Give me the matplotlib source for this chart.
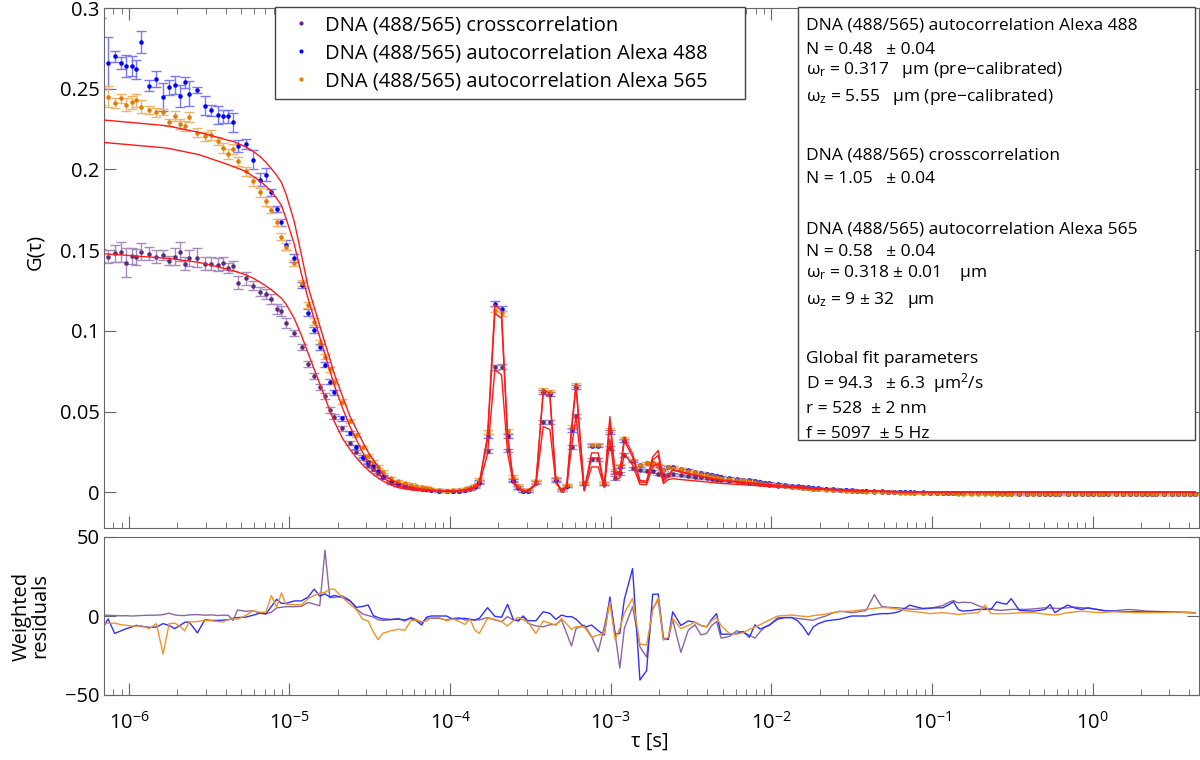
import numpy as np
import matplotlib
matplotlib.use("Agg")
import matplotlib.pyplot as plt
from matplotlib.lines import Line2D
from matplotlib.patches import Rectangle
from matplotlib.ticker import LogLocator, NullFormatter

plt.rcParams['font.family'] = ['Open Sans', 'DejaVu Sans']
plt.rcParams['mathtext.fontset'] = 'custom'
plt.rcParams['mathtext.rm'] = 'Open Sans'
plt.rcParams['mathtext.it'] = 'Open Sans:italic'
plt.rcParams['axes.unicode_minus'] = True

# lag times of the multi-tau correlator, in microseconds (8 channels per octave)
tau_us = [
    0.668, 0.742, 0.816, 0.891, 0.965, 1.039, 1.113,
    1.188, 1.336, 1.484, 1.633, 1.781, 1.930, 2.078, 2.227,
    2.375, 2.672, 2.969, 3.266, 3.563, 3.859, 4.156, 4.453,
    4.75, 5.344, 5.938, 6.531, 7.125, 7.719, 8.313, 8.906,
    9.5, 10.69, 11.88, 13.06, 14.25, 15.44, 16.63, 17.81,
    19.0, 21.38, 23.75, 26.13, 28.5, 30.88, 33.25, 35.63,
    38.0, 42.75, 47.5, 52.25, 57.0, 61.75, 66.5, 71.25,
    76, 85.5, 95, 104.5, 114, 123.5, 133, 142.5,
    152, 171, 190, 209, 228, 247, 266, 285,
    304, 342, 380, 418, 456, 494, 532, 570,
    608, 684, 760, 836, 912, 988, 1064, 1140,
    1216, 1368, 1520, 1672, 1824, 1976, 2128, 2280,
    2432, 2736, 3040, 3344, 3648, 3952, 4256, 4560,
    4864, 5472, 6080, 6688, 7296, 7904, 8512, 9120,
    9728, 10944, 12160, 13376, 14592, 15808, 17024, 18240,
    19456, 21888, 24320, 26752, 29184, 31616, 34048, 36480,
    38912, 43776, 48640, 53504, 58368, 63232, 68096, 72960,
    77824, 87552, 97280, 107008, 116736, 126464, 136192, 145920,
    155648, 175104, 194560, 214016, 233472, 252928, 272384, 291840,
    311296, 350208, 389120, 428032, 466944, 505856, 544768, 583680,
    622592, 700416, 778240, 856064, 933888, 1011712, 1089536, 1167360,
    1245184, 1400832, 1556480, 1712128, 1867776, 2023424, 2179072, 2334720,
    2490368, 2801664, 3112960, 3424256, 3735552, 4046848, 4358144,
]

# autocorrelation Alexa 488 (blue)
g_488 = [
    .272, .266, .270, .266, .264, .264, .262,
    .279, .252, .256, .245, .251, .2525, .2457, .254,
    .2469, .2494, .2395, .2366, .2339, .2329, .2329, .2291,
    .2147, .2157, .206, .1936, .1967, .1858, .1756, .1672,
    .1533, .145, .1286, .1114, .1007, .090, .079, .0687,
    .062, .046, .037, .028, .0222, .0187, .0164, .013,
    .0098, .0063, .0051, .0042, .0035, .003, .0026, .0023,
    .0016, .0012, .0008, .001, .0012, .0017, .0025, .0040,
    .0067, .0352, .1168, .1137, .0352, .0073, .0032, .0011,
    .0011, .0067, .0621, .061, .0077, .0015, .0042, .0387,
    .0655, .0055, .029, .029, .0055, .0375, .0125, .016,
    .032, .0195, .0168, .018, .018, .0164, .0139, .0156,
    .0156, .0146, .0137, .0128, .0120, .0113, .0107, .0101,
    .0096, .0090, .0085, .0080, .0075, .0070, .0065, .0061,
    .0057, .0052, .0047, .0043, .0039, .0035, .0032, .0029,
    .0026, .0023, .0020, .0018, .0016, .0014, .0012, .0011,
    .0009, .0008, .0007, .0006, .0005, .0004, .0003, .0002,
    .0001, .0, -.0001, -.0002, -.0002, -.0003, -.0003, -.0004,
    -.0004, -.0005, -.0005, -.0005, -.0006, -.0006, -.0006, -.0006,
    -.0006, -.0007, -.0007, -.0006, -.0007, -.0007, -.0007, -.0008,
    -.0007, -.0008, -.0007, -.0008, -.0008, -.0007, -.0008, -.0008,
    -.0008, -.0008, -.0009, -.0008, -.0008, -.0009, -.0008, -.0009,
    -.0008, -.0009, -.0009, -.0008, -.0009, -.0009, -.0009,
]
err_488 = [
    .022, .016, .0035, .0035, .007, .006, .006,
    .0067, .0032, .005, .0088, .0046, .0057, .0069, .0034,
    .0077, .0019, .006, .0036, .0056, .004, .004, .006,
    .0036, .003, .006, .004, .004, .002, .002, .002,
    .003, .0025, .002, .002, .002, .002, .0015, .0015,
    .0015, .0015, .0012, .0012, .001, .001, .001, .001,
    .0009, .0009, .0009, .0009, .0009, .0009, .0009, .0009,
    .0008, .0008, .0008, .0008, .0008, .0008, .0008, .0008,
    .001, .0012, .0015, .0015, .0012, .001, .0008, .0008,
    .0008, .001, .0012, .0012, .001, .0008, .0008, .0012,
    .0012, .0008, .001, .001, .0008, .0012, .001, .001,
    .001, .0008, .0008, .0008, .0008, .0008, .0008, .0008,
    .0007, .0007, .0007, .0007, .0007, .0007, .0007, .0007,
    .0006, .0006, .0006, .0006, .0006, .0006, .0006, .0006,
    .0005, .0005, .0005, .0005, .0005, .0005, .0005, .0005,
    .0005, .0005, .0005, .0005, .0005, .0005, .0005, .0005,
    .0004, .0004, .0004, .0004, .0004, .0004, .0004, .0004,
    .0004, .0004, .0004, .0004, .0004, .0004, .0004, .0004,
    .0004, .0004, .0004, .0004, .0004, .0004, .0004, .0004,
    .0004, .0004, .0004, .0004, .0004, .0004, .0004, .0004,
    .0004, .0004, .0004, .0004, .0004, .0004, .0004, .0004,
    .0004, .0004, .0004, .0004, .0004, .0004, .0004, .0004,
    .0004, .0004, .0004, .0004, .0004, .0004, .0004,
]
fit_488 = [
    .2308, .2304, .2300, .2297, .2294, .2291, .2288,
    .2286, .2281, .2277, .2273, .2268, .2261, .2254, .2248,
    .2242, .2232, .2221, .2210, .2199, .2189, .2181, .2174,
    .2162, .2140, .2112, .2082, .2045, .2005, .1965, .1920,
    .1850, .1680, .1470, .1273, .1147, .1031, .0926, .0830,
    .0735, .0596, .0473, .0391, .0315, .0250, .0203, .0158,
    .0115, .0080, .0058, .0043, .0033, .0026, .0021, .0018,
    .0015, .0012, .0010, .0010, .0012, .0016, .0023, .0037,
    .0060, .0350, .1162, .1127, .0360, .0075, .0030, .0010,
    .0010, .0055, .0635, .0615, .0070, .0012, .0038, .0400,
    .0672, .0015, .0245, .0245, .0040, .0470, .0120, .0130,
    .0340, .0240, .0075, .0070, .0220, .0260, .0080, .0110,
    .0140, .0128, .0118, .0108, .0100, .0093, .0087, .0082,
    .0078, .0073, .0068, .0064, .0060, .0057, .0054, .0051,
    .0048, .0045, .0042, .0039, .0036, .0033, .0030, .0027,
    .0024, .0021, .0019, .0017, .0015, .0013, .0012, .0011,
    .0010, .0009, .0008, .0007, .0006, .0005, .0005, .0004,
    .0004, .0004, .0003, .0003, .0003, .0003, .0003, .0003,
    .0003, .0003, .0003, .0003, .0003, .0003, .0003, .0003,
    .0003, .0003, .0003, .0003, .0003, .0003, .0003, .0003,
    .0003, .0003, .0003, .0003, .0003, .0003, .0003, .0003,
    .0003, .0003, .0003, .0003, .0003, .0003, .0003, .0003,
    .0003, .0003, .0003, .0003, .0003, .0003, .0003,
]
res_488 = [
    -10, -1.8, -11, -9.4, -8, -7, -5.9,
    -6.5, -7.2, -7, -4.8, -6, -8, -6, -4,
    -3.8, -10.7, -2.4, -2.8, -2.8, -2.6, -2.4, -1.5,
    -1.0, -0.7, 0.5, 1.8, 1.4, 6, 10.6, 8,
    8, 9.5, 9.6, 12, 17, 12.6, 14, 12,
    13, 11.7, 9.6, 5.5, 6, 7, 0.3, -1,
    -1.8, -2.2, -2, -2.5, -1.5, -3, -5.7, -0.8,
    0, 0, 0, -2.1, -1.7, -1.5, -2, -2.5,
    -1.5, 5.3, -0.2, -0.8, 7.4, -2, -3.2, 0,
    -3, -3, 2.7, 1.7, -2.1, 0.6, -0.4, -0.4,
    -2, -7.2, -5.7, -9.3, -12, 12, -11.4, -11,
    10.5, 30, -40.5, -34.6, 13.7, 13.9, -14, -14.8,
    2.7, -6, -3.1, -4, -6, -6.9, -2, 1.5,
    -11.5, -11.5, -11, -9.8, -13.5, -5.6, -8.3, -7,
    -5.6, -2, -1, -1, -3, -7, -12, -7,
    -5, -3.1, -2.5, -2, -1, 0, 0, 0,
    0, 1, 1.5, 1.5, 2, 3, 5, 6.9,
    6, 4.8, 5, 5.2, 5.2, 7, 9, 4,
    3.1, 3.5, 4.2, 4.2, 4.2, 9, 8, 7.5,
    11, 3.5, 3.3, 3.1, 3.6, 4.2, 7.3, 2.1,
    4, 6.9, 5, 4.2, 5.2, 4.5, 4, 3.5,
    3.2, 2.9, 2.7, 2.7, 2.7, 2.6, 2.5, 2.5,
    2.5, 2.5, 2.5, 2.4, 2.3, 2.2, 2.1,
]

# autocorrelation Alexa 565 (orange)
g_565 = [
    .246, .245, .241, .244, .240, .2415, .243,
    .239, .237, .2353, .2356, .2291, .2333, .2283, .2271,
    .2325, .2229, .2205, .2215, .2174, .2133, .2097, .2126,
    .205, .1988, .1926, .1858, .1802, .175, .1672, .1585,
    .1523, .142, .1296, .1162, .1058, .0928, .0841, .0763,
    .0687, .0563, .0443, .0356, .028, .0226, .019, .016,
    .0129, .0088, .0071, .0058, .0048, .0040, .0034, .0030,
    .002, .0015, .0012, .0013, .0015, .002, .003, .0045,
    .008, .0377, .1131, .111, .038, .0098, .0042, .0015,
    .0015, .0067, .0635, .0625, .0088, .0018, .0045, .0408,
    .0668, .0058, .0296, .0296, .0058, .0385, .0133, .0166,
    .0336, .0201, .017, .0181, .0182, .0166, .0142, .016,
    .0154, .0143, .0134, .0125, .0117, .0110, .0103, .0097,
    .0092, .0086, .0080, .0075, .0070, .0064, .0060, .0055,
    .0050, .0045, .0040, .0036, .0031, .0027, .0025, .0023,
    .0021, .0018, .0015, .0013, .0011, .0009, .0008, .0007,
    .0005, .0004, .0002, .0001, .0, -.0001, -.0002, -.0003,
    -.0004, -.0004, -.0005, -.0005, -.0006, -.0006, -.0006, -.0007,
    -.0007, -.0007, -.0008, -.0008, -.0008, -.0008, -.0009, -.0009,
    -.0009, -.0009, -.0009, -.0010, -.0009, -.0010, -.0010, -.0010,
    -.0010, -.0010, -.0011, -.0010, -.0010, -.0011, -.0010, -.0011,
    -.0011, -.0010, -.0011, -.0011, -.0010, -.0011, -.0011, -.0011,
    -.0011, -.0011, -.0010, -.0011, -.0011, -.0011, -.0011,
]
err_565 = [
    .006, .0065, .003, .003, .004, .004, .004,
    .004, .0025, .003, .002, .002, .003, .003, .003,
    .003, .0025, .003, .003, .0025, .003, .003, .003,
    .003, .003, .003, .003, .003, .002, .002, .002,
    .002, .002, .002, .002, .002, .0015, .0015, .0015,
    .0015, .0015, .0012, .0012, .001, .001, .001, .001,
    .0009, .0009, .0009, .0009, .0009, .0009, .0009, .0009,
    .0008, .0008, .0008, .0008, .0008, .0008, .0008, .0008,
    .001, .0012, .0015, .0015, .0012, .001, .0008, .0008,
    .0008, .001, .0012, .0012, .001, .0008, .0008, .0012,
    .0012, .0008, .001, .001, .0008, .0012, .001, .001,
    .001, .0008, .0008, .0008, .0008, .0008, .0008, .0008,
    .0007, .0007, .0007, .0007, .0007, .0007, .0007, .0007,
    .0006, .0006, .0006, .0006, .0006, .0006, .0006, .0006,
    .0005, .0005, .0005, .0005, .0005, .0005, .0005, .0005,
    .0005, .0005, .0005, .0005, .0005, .0005, .0005, .0005,
    .0004, .0004, .0004, .0004, .0004, .0004, .0004, .0004,
    .0004, .0004, .0004, .0004, .0004, .0004, .0004, .0004,
    .0004, .0004, .0004, .0004, .0004, .0004, .0004, .0004,
    .0004, .0004, .0004, .0004, .0004, .0004, .0004, .0004,
    .0004, .0004, .0004, .0004, .0004, .0004, .0004, .0004,
    .0004, .0004, .0004, .0004, .0004, .0004, .0004, .0004,
    .0004, .0004, .0004, .0004, .0004, .0004, .0004,
]
fit_565 = [
    .2169, .2165, .2161, .2158, .2155, .2152, .2150,
    .2147, .2143, .2139, .2135, .2130, .2123, .2116, .2110,
    .2104, .2094, .2080, .2066, .2053, .2041, .2030, .2019,
    .2008, .1988, .1958, .1928, .1898, .1862, .1822, .1778,
    .1700, .1540, .1350, .1200, .1075, .0960, .0855, .0755,
    .0665, .0523, .0410, .0325, .0249, .0190, .0145, .0118,
    .0092, .0060, .0042, .0031, .0024, .0019, .0016, .0014,
    .0013, .0010, .0008, .0008, .0010, .0014, .0021, .0035,
    .0058, .0330, .1110, .1079, .0340, .0072, .0028, .0009,
    .0010, .0052, .0615, .0594, .0068, .0012, .0036, .0380,
    .0660, .0015, .0214, .0214, .0035, .0440, .0110, .0120,
    .0320, .0220, .0065, .0062, .0200, .0230, .0070, .0100,
    .0138, .0126, .0115, .0106, .0098, .0091, .0085, .0080,
    .0075, .0069, .0064, .0060, .0056, .0053, .0050, .0047,
    .0045, .0042, .0039, .0036, .0033, .0030, .0027, .0024,
    .0022, .0019, .0017, .0015, .0013, .0011, .0010, .0009,
    .0008, .0007, .0006, .0005, .0005, .0004, .0004, .0003,
    .0003, .0002, .0002, .0002, .0002, .0002, .0002, .0002,
    .0002, .0002, .0002, .0002, .0002, .0002, .0002, .0002,
    .0002, .0002, .0002, .0002, .0002, .0002, .0002, .0002,
    .0002, .0002, .0002, .0002, .0002, .0002, .0002, .0002,
    .0002, .0002, .0002, .0002, .0002, .0002, .0002, .0002,
    .0002, .0002, .0002, .0002, .0002, .0002, .0002,
]
res_565 = [
    -4.9, -4.6, -4.5, -5.5, -5.9, -6.3, -6.5,
    -6, -8, -4.9, -24, -4.9, -4.5, -6.5, -9.4,
    -3.8, -3.5, -2.8, -3, -3.5, -3.8, -2.4, -1.8,
    -2, 0.3, 3.4, 2.4, 2.4, 13, 5.5, 14.6,
    7.5, 7.2, 7, 11, 13, 14.5, 15, 17,
    17, 11.7, 7.5, 4, -2, -3.2, -10, -15,
    -11, -9.4, -8.4, -9, -3, -2.5, -3.6, -3.2,
    -1, -1, -3, -1.9, -3.5, -5.3, -1.9, -8.9,
    -11, -1.5, -2.1, -3.6, -6.3, -3, -0.8, -2.5,
    -3.6, -11, -3.2, -4.5, -5.9, -1.5, -5, -8.4,
    -6.8, -6.8, -13.5, -12, -11, 9, -14.8, -7.8,
    2, 11.2, -17.7, -18.4, 3.8, 11.6, -15.2, -13.5,
    -1.5, -8, -6, -4, -6, -6.9, -3, -1,
    -6, -11, -11.5, -10.5, -8.5, -7, -5.5, -4,
    -2.5, 0, 0.3, 0.6, 0.2, -0.2, -0.4, 0.2,
    0.6, 1.2, 2.2, 2.8, 3, 3.1, 3.5, 3.9,
    4.2, 4.8, 5.4, 5.2, 4.6, 4.2, 3.6, 3,
    2.7, 2.2, 1.5, 1.8, 2.1, 1.7, 1.3, 1,
    1.3, 1.8, 2.1, 6.9, 1.5, 1.5, 1.5, 1.5,
    1.7, 2, 2.1, 2.1, 1.6, 1.2, 0.8, 0.6,
    1, 2.1, 2.6, 3.1, 2.7, 2.4, 2.1, 2.3,
    2.5, 2.7, 2.5, 2.3, 2.1, 2.1, 2.1, 2.1,
    2.1, 2.2, 2.3, 2.5, 2.3, 2.1, 1.9,
]

# crosscorrelation (purple)
g_cross = [
    .147, .146, .148, .149, .1424, .1465, .146,
    .1492, .1478, .1461, .1471, .1436, .1461, .1492, .1416,
    .1451, .1455, .1416, .1416, .141, .142, .1389, .1403,
    .130, .1327, .1281, .1244, .123, .1197, .1135, .1124,
    .1048, .0986, .090, .0794, .0722, .0652, .0598, .0511,
    .047, .0398, .0309, .0253, .0212, .017, .0145, .012,
    .0098, .0071, .0051, .0040, .0032, .0027, .0023, .0020,
    .0015, .0012, .0009, .001, .0011, .0015, .0022, .0034,
    .006, .0257, .0776, .078, .026, .0079, .003, .001,
    .001, .006, .0435, .0435, .008, .0015, .004, .028,
    .0474, .0057, .0206, .0206, .0057, .0274, .009, .0119,
    .0232, .015, .014, .0135, .013, .0115, .0109, .011,
    .0112, .0108, .0103, .0098, .0093, .0088, .0084, .0080,
    .0076, .0072, .0068, .0064, .0060, .0057, .0053, .0050,
    .0046, .0042, .0038, .0034, .0031, .0028, .0025, .0023,
    .0021, .0019, .0017, .0015, .0013, .0011, .0010, .0009,
    .0007, .0006, .0005, .0004, .0003, .0002, .0001, .0,
    -.0001, -.0001, -.0002, -.0003, -.0003, -.0004, -.0004, -.0005,
    -.0005, -.0005, -.0006, -.0006, -.0006, -.0007, -.0007, -.0007,
    -.0007, -.0007, -.0008, -.0007, -.0008, -.0008, -.0007, -.0008,
    -.0008, -.0008, -.0007, -.0008, -.0008, -.0008, -.0008, -.0008,
    -.0008, -.0008, -.0008, -.0009, -.0008, -.0008, -.0009, -.0008,
    -.0008, -.0009, -.0008, -.0008, -.0009, -.0008, -.0008,
]
err_cross = [
    .004, .004, .005, .006, .009, .005, .005,
    .005, .004, .004, .003, .003, .005, .006, .004,
    .005, .006, .004, .004, .004, .004, .003, .003,
    .004, .004, .003, .003, .003, .003, .003, .003,
    .003, .002, .002, .002, .002, .002, .002, .002,
    .0015, .0015, .0012, .001, .001, .001, .001, .001,
    .0009, .0009, .0009, .0009, .0009, .0009, .0009, .0009,
    .0008, .0008, .0008, .0008, .0008, .0008, .0008, .0008,
    .001, .0012, .0015, .0015, .0012, .001, .0008, .0008,
    .0008, .001, .0012, .0012, .001, .0008, .0008, .0012,
    .0012, .0008, .001, .001, .0008, .0012, .001, .001,
    .001, .0008, .0008, .0008, .0008, .0008, .0008, .0008,
    .0007, .0007, .0007, .0007, .0007, .0007, .0007, .0007,
    .0006, .0006, .0006, .0006, .0006, .0006, .0006, .0006,
    .0006, .0006, .0006, .0006, .0006, .0006, .0006, .0006,
    .0005, .0005, .0005, .0005, .0005, .0005, .0005, .0005,
    .0005, .0005, .0005, .0005, .0005, .0005, .0005, .0005,
    .0005, .0005, .0005, .0005, .0005, .0005, .0005, .0005,
    .0005, .0005, .0005, .0005, .0005, .0005, .0005, .0005,
    .0005, .0005, .0005, .0005, .0005, .0005, .0005, .0005,
    .0005, .0005, .0005, .0005, .0005, .0005, .0005, .0005,
    .0005, .0005, .0005, .0005, .0005, .0005, .0005, .0005,
    .0005, .0005, .0005, .0005, .0005, .0005, .0005,
]
fit_cross = [
    .1480, .1476, .1474, .1471, .1468, .1466, .1464,
    .1462, .1458, .1455, .1452, .1449, .1445, .1440, .1436,
    .1433, .1426, .1417, .1407, .1398, .1389, .1381, .1374,
    .1364, .1348, .1327, .1303, .1279, .1255, .1228, .1203,
    .1168, .1079, .0972, .0862, .0764, .0672, .0589, .0508,
    .0440, .0335, .0268, .0214, .0172, .0139, .0112, .0090,
    .0072, .0047, .0030, .0022, .0017, .0014, .0012, .0011,
    .0010, .0008, .0007, .0007, .0008, .0011, .0016, .0027,
    .0046, .0240, .0759, .0728, .0245, .0058, .0022, .0008,
    .0008, .0045, .0408, .0390, .0058, .0010, .0030, .0280,
    .0470, .0010, .0158, .0158, .0030, .0330, .0080, .0090,
    .0240, .0170, .0050, .0048, .0160, .0180, .0055, .0080,
    .0085, .0080, .0076, .0072, .0068, .0065, .0062, .0059,
    .0056, .0053, .0050, .0048, .0046, .0043, .0041, .0039,
    .0037, .0035, .0033, .0031, .0029, .0027, .0025, .0023,
    .0021, .0019, .0017, .0015, .0013, .0012, .0011, .0010,
    .0009, .0008, .0007, .0006, .0005, .0005, .0004, .0004,
    .0003, .0003, .0003, .0003, .0003, .0003, .0003, .0003,
    .0003, .0003, .0003, .0003, .0003, .0003, .0003, .0003,
    .0003, .0003, .0003, .0003, .0003, .0003, .0003, .0003,
    .0003, .0003, .0003, .0003, .0003, .0003, .0003, .0003,
    .0003, .0003, .0003, .0003, .0003, .0003, .0003, .0003,
    .0003, .0003, .0003, .0003, .0003, .0003, .0003,
]
res_cross = [
    0.7, 0.5, 0.3, 0.1, 0.2, 0.0, 0.1,
    0.3, 0.5, 0.5, 0.9, 1.8, 0.7, 0.3, 0.3,
    0.7, 0.9, 0.5, 0.7, 0.3, 0.5, 0.5, -2.8,
    3.8, 3.0, 3.4, 1.8, 1.3, 2.4, 5.1, 5.5,
    5.9, 5.9, 6.1, 8.6, 7.5, 6.5, 41.7, 11.7,
    11.7, 12.7, 10, 4.5, 1.3, 0.3, -0.7, -2.4,
    -2.8, -2.4, -1.5, -3.2, -0.8, -2.4, -4.2, -1.5,
    -1.5, -1.5, -2.5, -1.5, -1.1, -2.5, -2.5, -2.5,
    -2.5, -1, -2.5, -3.6, -0.4, -2.5, -2.5, -0.4,
    -4.5, -6.3, -6.8, -5.5, -5.3, -2.5, -11, -19,
    -8, -5.7, -13, -22.6, -6.8, 10, -11, -33,
    -7.8, 5.9, -19.4, -26, 4.9, 10, -14.8, -14.8,
    -2.5, -23, -9, -5.5, -12, -11, -6, -3.5,
    -14, -13, -9.4, -10.5, -12, -14, -10, -7,
    -6, -1, -1, -1, -1.5, -2, -2.3, -2.7,
    -1.5, 0, 2, 3, 2.5, 2.1, 2.5, 3,
    3.5, 13.5, 6, 5.5, 5.3, 5.1, 4.7, 4.4,
    4.2, 4.5, 4.8, 5.8, 6.6, 8.5, 9.8, 8.3,
    8.7, 8.5, 6.5, 5, 4.4, 3.7, 3.6, 3.9,
    4.2, 4.2, 4.2, 4.5, 4.9, 5.2, 5, 4.9,
    4.8, 5.2, 5.6, 5.2, 4.9, 4.6, 4, 3.4,
    3.1, 3.4, 3.9, 4.1, 3.8, 3.4, 3.1, 3,
    2.9, 2.7, 2.5, 2.4, 2.3, 2.2, 2.1,
]

labels = ["DNA (488/565) crosscorrelation",
          "DNA (488/565) autocorrelation Alexa 488",
          "DNA (488/565) autocorrelation Alexa 565"]

info_lines = [
    ("DNA (488/565) autocorrelation Alexa 488", 29),
    ("N = 0.48   \u00b1 0.04", 54),
    ("\u03c9$_\\mathrm{r}$ = 0.317   \u03bcm (pre\u2212calibrated)", 74),
    ("\u03c9$_\\mathrm{z}$ = 5.55   \u03bcm (pre\u2212calibrated)", 101),
    ("DNA (488/565) crosscorrelation", 159),
    ("N = 1.05   \u00b1 0.04", 183),
    ("DNA (488/565) autocorrelation Alexa 565", 233),
    ("N = 0.58   \u00b1 0.04", 256),
    ("\u03c9$_\\mathrm{r}$ = 0.318 \u00b1 0.01    \u03bcm", 277),
    ("\u03c9$_\\mathrm{z}$ = 9 \u00b1 32   \u03bcm", 304),
    ("Global fit parameters", 363),
    ("D = 94.3   \u00b1 6.3  \u03bcm$^\\mathrm{2}$/s", 388),
    ("r = 528  \u00b1 2 nm", 413),
    ("f = 5097  \u00b1 5 Hz", 438),
]

decades = [1e-6, 1e-5, 1e-4, 1e-3, 1e-2, 1e-1, 1e0]

tau = np.array(tau_us) * 1e-6
for arr in (g_488, err_488, fit_488, res_488, g_565, err_565, fit_565, res_565,
            g_cross, err_cross, fit_cross, res_cross):
    assert len(arr) == len(tau), len(arr)

# colours: markers, error bars, residual lines
series = [
    (g_cross, err_cross, fit_cross, res_cross, "#5b2c7e", "#a58cbb", "#8a67a0"),
    (g_488, err_488, fit_488, res_488, "#0000ff", "#7777ff", "#3030ff"),
    (g_565, err_565, fit_565, res_565, "#e07c00", "#f3b46a", "#f09428"),
]

W, H = 1200, 760
fig = plt.figure(figsize=(W / 100, H / 100), dpi=100)
ax = fig.add_axes([104 / W, 1 - 528 / H, 1095 / W, 520 / H])
axr = fig.add_axes([104 / W, 1 - 695 / H, 1095 / W, 158 / H])

for g, e, fit, res, c_mk, c_err, c_res in series:
    ax.errorbar(tau, g, yerr=e, fmt="none", ecolor=c_err, elinewidth=1.0,
                capsize=3.5, capthick=1.0, zorder=2)
    ax.plot(tau, g, ".", color=c_mk, markersize=4.5, zorder=3)
for g, e, fit, res, c_mk, c_err, c_res in series:
    ax.plot(tau, fit, "-", color="#ff1a1a", linewidth=1.0, zorder=4)
for g, e, fit, res, c_mk, c_err, c_res in series:
    axr.plot(tau, res, "-", color=c_res, linewidth=1.0)

spine_col = "#666666"
for a in (ax, axr):
    a.set_xscale("log")
    a.set_xticks(decades)
    a.xaxis.set_minor_locator(LogLocator(base=10, subs=np.arange(2, 10)))
    a.xaxis.set_minor_formatter(NullFormatter())
    a.set_xlim(7e-7, 4.6)
    for s in a.spines.values():
        s.set_color(spine_col)
    a.tick_params(which="both", direction="in", color=spine_col, labelsize=14.5,
                  labelcolor="black")
    a.tick_params(which="major", length=8.5)
    a.tick_params(which="minor", length=4.5)

ax.tick_params(which="both", top=True, right=True, labelbottom=False)
ax.tick_params(axis="y", pad=3)
ax.set_ylim(-0.022, 0.3)
yt = [0, 0.05, 0.1, 0.15, 0.2, 0.25, 0.3]
ax.set_yticks(yt)
ax.set_yticklabels(["0", "0.05", "0.1", "0.15", "0.2", "0.25", "0.3"])

axr.set_ylim(-50, 50)
axr.set_yticks([-50, 0, 50])
axr.set_yticklabels(["\u221250", "0", "50"])
axr.tick_params(which="both", top=False, right=True)
axr.tick_params(axis="y", pad=3)
axr.tick_params(axis="x", pad=12)

fig.text(35 / W, 1 - 252 / H, "G(\u03c4)", rotation=90, ha="center", va="center",
         fontsize=14.5)
fig.text(31 / W, 1 - 616 / H, "Weighted\nresiduals", rotation=90, ha="center",
         va="center", fontsize=14.5, linespacing=0.9)
fig.text(650 / W, 1 - 742 / H, "\u03c4 [s]", ha="center", va="center", fontsize=14.5)

# legend with a hand drawn frame
handles = [Line2D([], [], marker=".", ls="none", color=s[4], markersize=4)
           for s in series]
fig.legend(handles, labels, loc="upper left",
           bbox_to_anchor=(291 / W, 1 - 15 / H), frameon=False, borderpad=0,
           borderaxespad=0, handlelength=1.0, handletextpad=0.69,
           labelspacing=0.4, fontsize=14.5)
fig.patches.append(Rectangle((275 / W, 1 - 99 / H), 470 / W, 92 / H,
                             transform=fig.transFigure, fill=True,
                             facecolor="white", edgecolor="#444444",
                             linewidth=1.0, zorder=5))

# parameter box
fig.patches.append(Rectangle((798 / W, 1 - 440 / H), 397 / W, 433 / H,
                             transform=fig.transFigure, fill=True,
                             facecolor="white", edgecolor="#444444",
                             linewidth=1.0, zorder=5))
for txt, ybase in info_lines:
    fig.text(806 / W, 1 - ybase / H, txt, ha="left", va="baseline",
             fontsize=12.5, zorder=6)

fig.savefig("out.png", dpi=100)
